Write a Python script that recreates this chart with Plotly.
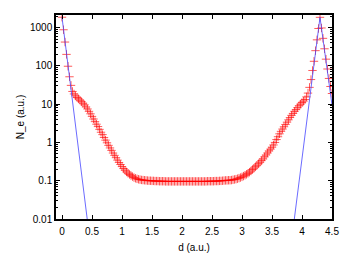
import numpy as np
import plotly.graph_objects as go

# red series: density sampled every 0.025 a.u. from 0 to 4.5
d_step = 0.025
ne_total = [
    1870, 880, 420, 200, 98, 52, 31, 21.5, 18.5, 16.5,
    15, 13.8, 12.7, 11.6, 10.6, 9.6, 8.5, 7.5, 6.5, 5.6,
    4.8, 4.1, 3.5, 3.0, 2.6, 2.2, 1.85, 1.6, 1.35, 1.15,
    0.98, 0.84, 0.72, 0.62, 0.53, 0.46, 0.40, 0.345, 0.30, 0.265,
    0.234, 0.208, 0.188, 0.170, 0.157, 0.146, 0.136, 0.128, 0.121, 0.116,
    0.112, 0.109, 0.107, 0.105, 0.104, 0.103, 0.102, 0.101, 0.100, 0.100,
    0.099, 0.099, 0.098, 0.098, 0.098, 0.097, 0.097, 0.097, 0.097, 0.096,
    0.096, 0.096, 0.096, 0.096, 0.096, 0.096, 0.096, 0.096, 0.096, 0.096,
    0.096, 0.096, 0.096, 0.096, 0.096, 0.096, 0.096, 0.096, 0.096, 0.096,
    0.096, 0.096, 0.096, 0.096, 0.096, 0.096, 0.096, 0.097, 0.097, 0.097,
    0.097, 0.097, 0.098, 0.098, 0.098, 0.099, 0.099, 0.100, 0.101, 0.102,
    0.102, 0.103, 0.103, 0.104, 0.106, 0.108, 0.110, 0.113, 0.117, 0.121,
    0.126, 0.132, 0.139, 0.147, 0.156, 0.167, 0.180, 0.196, 0.213, 0.232,
    0.254, 0.278, 0.305, 0.335, 0.37, 0.42, 0.47, 0.53, 0.60, 0.67,
    0.75, 0.86, 1.0, 1.19, 1.41, 1.68, 1.95, 2.24, 2.57, 2.95,
    3.39, 3.9, 4.47, 5.1, 5.75, 6.5, 7.2, 8.1, 9.1, 10.0,
    11.0, 12.0, 13.2, 15.5, 19.5, 27.5, 44, 76, 132, 250,
    480, 950, 1860, 980, 525, 280, 150, 83, 47, 29,
    19,
]
d_total = [round(i * d_step, 3) for i in range(len(ne_total))]

# blue series: core contribution (straight on log scale), two segments
d_core = [0.0, 0.5, None, 3.8, 4.3, 4.5]
ne_core = [1870, 0.001, None, 0.0013, 1860, 9.5]

x_ticks = [0, 0.5, 1, 1.5, 2, 2.5, 3, 3.5, 4, 4.5]
x_ticktext = ["0", "0.5", "1", "1.5", "2", "2.5", "3", "3.5", "4", "4.5"]
y_ticks = [0.01, 0.1, 1, 10, 100, 1000]
y_ticktext = ["0.01", "0.1", "1", "10", "100", "1000"]
y_minor = [m * 10.0 ** e for e in range(-2, 4) for m in range(2, 10)]

fig = go.Figure()
fig.add_trace(go.Scatter(
    x=d_total, y=ne_total, mode="markers",
    marker=dict(symbol="cross-thin", size=6,
                line=dict(color="rgba(255,0,0,0.65)", width=1)),
    showlegend=False,
))
fig.add_trace(go.Scatter(
    x=d_core, y=ne_core, mode="lines",
    line=dict(color="rgba(70,70,255,0.8)", width=1),
    connectgaps=False, showlegend=False,
))

font = dict(family="Liberation Sans, Arial, sans-serif", size=10, color="black")
# page body has an 8px margin, so the figure is sized to fit the 349x253 window
fig.update_layout(
    width=341, height=245,
    margin=dict(l=48, r=17, t=7, b=34),
    paper_bgcolor="white", plot_bgcolor="white",
    font=font,
    xaxis=dict(
        range=[-0.1, 4.5], tickvals=x_ticks, ticktext=x_ticktext,
        ticks="inside", ticklen=4, tickwidth=1, tickcolor="black",
        ticklabelstandoff=2,
        showline=True, linecolor="black", linewidth=1.5, mirror="allticks",
        showgrid=False, zeroline=False, automargin=False,
        title=dict(text="d (a.u.)", standoff=10, font=font),
    ),
    yaxis=dict(
        type="log", range=[-2, 3.33], tickvals=y_ticks, ticktext=y_ticktext,
        ticks="inside", ticklen=4, tickwidth=1, tickcolor="black",
        minor=dict(tickvals=y_minor, ticks="inside", ticklen=2, tickcolor="black", showgrid=False),
        showline=True, linecolor="black", linewidth=1.5, mirror="allticks",
        showgrid=False, zeroline=False, automargin=False,
        title=dict(text="N_e (a.u.)", standoff=4, font=font),
    ),
)
fig.write_html("out.html")
